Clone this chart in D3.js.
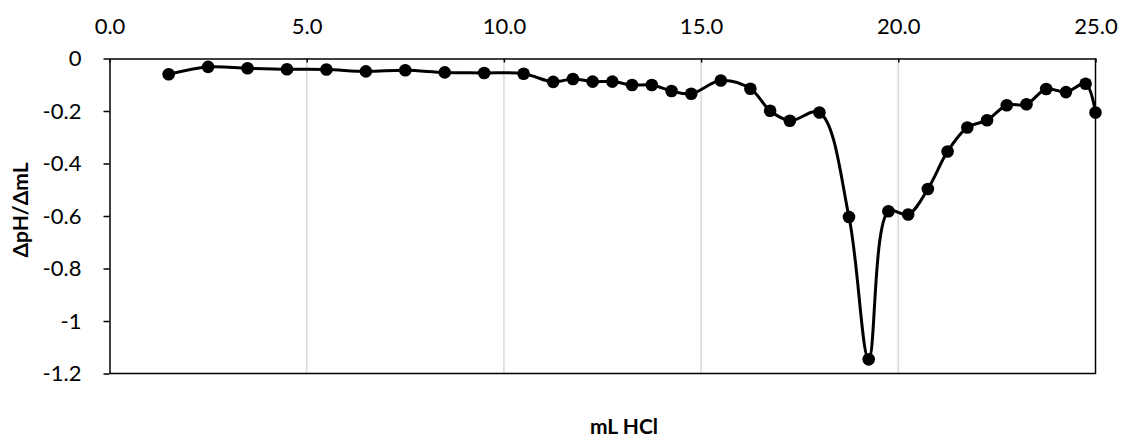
<!DOCTYPE html>
<html>
<head>
<meta charset="utf-8">
<script src="https://cdn.jsdelivr.net/npm/d3@7/dist/d3.min.js"></script>
<style>
  html, body { margin: 0; padding: 0; background: #fff; }
  svg text { font-family: Lato, "Open Sans", sans-serif; fill: #000; }
</style>
</head>
<body>
<svg id="chart" width="1122" height="438"></svg>
<script>
// Titrant volume (mL HCl) and first derivative of pH
const volume = [1.5, 2.5, 3.5, 4.5, 5.5, 6.5, 7.5, 8.5, 9.5, 10.5,
  11.25, 11.75, 12.25, 12.75, 13.25, 13.75, 14.25, 14.75, 15.5, 16.25,
  16.75, 17.25, 18.0, 18.75, 19.25, 19.75, 20.25, 20.75, 21.25, 21.75,
  22.25, 22.75, 23.25, 23.75, 24.25, 24.75, 25.0];
const dpH = [-0.060, -0.032, -0.037, -0.041, -0.042, -0.049, -0.045, -0.053, -0.055, -0.058,
  -0.089, -0.078, -0.088, -0.088, -0.101, -0.101, -0.124, -0.134, -0.084, -0.115,
  -0.199, -0.237, -0.206, -0.604, -1.146, -0.582, -0.594, -0.497, -0.354, -0.263,
  -0.235, -0.178, -0.174, -0.116, -0.128, -0.096, -0.206];
const xTicks = [0, 5, 10, 15, 20, 25];
const yTicks = [0, -0.2, -0.4, -0.6, -0.8, -1, -1.2];
const xTitle = "mL HCl";
const yTitle = "ΔpH/ΔmL";

const data = volume.map((v, i) => ({ x: v, y: dpH[i] }));

const svg = d3.select("#chart");
const plotLeft = 109.5, plotRight = 1095.5, plotTop = 58.5, plotBottom = 373.5;

const x = d3.scaleLinear().domain([0, 25]).range([plotLeft, plotRight]);
const y = d3.scaleLinear().domain([0, -1.2]).range([plotTop, plotBottom]);

// vertical gridlines
svg.append("g")
  .selectAll("line")
  .data(xTicks.filter(t => t > 0 && t < 25))
  .join("line")
  .attr("x1", d => x(d)).attr("x2", d => x(d))
  .attr("y1", plotTop).attr("y2", plotBottom)
  .attr("stroke", "#d9d9d9").attr("stroke-width", 1.5);

// plot frame (bottom and right)
svg.append("path")
  .attr("d", `M${plotLeft},${plotBottom}H${plotRight}V${plotTop}`)
  .attr("fill", "none").attr("stroke", "#000").attr("stroke-width", 1.5);

// x axis on top, where y = 0
const xAxis = svg.append("g")
  .attr("transform", `translate(0,${y(0)})`)
  .call(d3.axisTop(x).tickValues(xTicks).tickFormat(d => d.toFixed(1)).tickSizeInner(-4).tickSizeOuter(0).tickPadding(0));
xAxis.select(".domain").attr("stroke", "#000").attr("stroke-width", 1.5);
xAxis.selectAll(".tick line").attr("stroke", "#000").attr("stroke-width", 1.5);
xAxis.selectAll(".tick text")
  .attr("y", -25)
  .attr("font-size", 22)
  .style("font-family", "Lato, 'Open Sans', sans-serif");

// y axis (plain hyphen for the minus sign)
const yAxis = svg.append("g")
  .attr("transform", `translate(${plotLeft},0)`)
  .call(d3.axisLeft(y).tickValues(yTicks).tickFormat(d => String(+d.toFixed(1))).tickSizeInner(6).tickSizeOuter(0).tickPadding(22));
yAxis.select(".domain").attr("stroke", "#000").attr("stroke-width", 1.5);
yAxis.selectAll(".tick line").attr("stroke", "#000").attr("stroke-width", 1.5);
yAxis.selectAll(".tick text")
  .attr("font-size", 22)
  .style("font-family", "Lato, 'Open Sans', sans-serif");

// smoothed series line
const line = d3.line()
  .x(d => x(d.x)).y(d => y(d.y))
  .curve(d3.curveCatmullRom.alpha(0.5));

svg.append("path")
  .datum(data)
  .attr("d", line)
  .attr("fill", "none")
  .attr("stroke", "#000")
  .attr("stroke-width", 3);

// markers
svg.append("g")
  .selectAll("circle")
  .data(data)
  .join("circle")
  .attr("cx", d => x(d.x))
  .attr("cy", d => y(d.y))
  .attr("r", 6.3)
  .attr("fill", "#000");

// axis titles
svg.append("text")
  .attr("x", 624).attr("y", 434)
  .attr("text-anchor", "middle")
  .attr("font-size", 21).attr("font-weight", "bold")
  .text(xTitle);

svg.append("text")
  .attr("transform", `translate(28,210) rotate(-90)`)
  .attr("text-anchor", "middle")
  .attr("font-size", 21).attr("font-weight", "bold")
  .text(yTitle);
</script>
</body>
</html>
